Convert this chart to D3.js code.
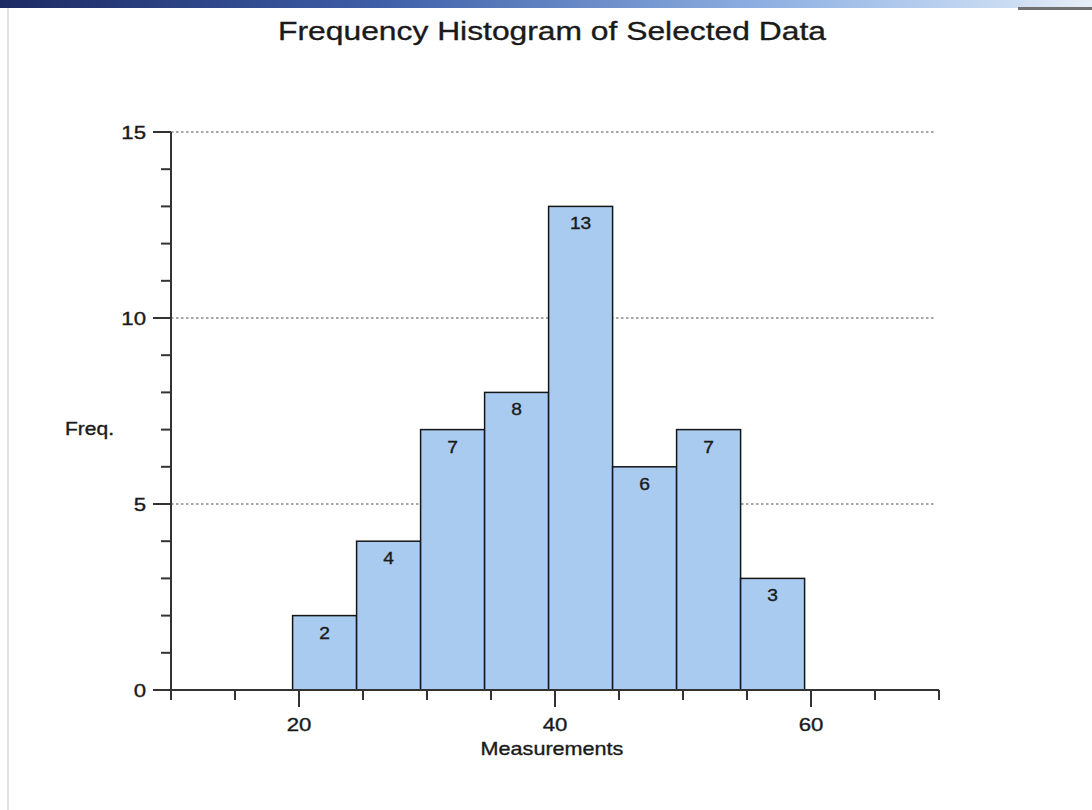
<!DOCTYPE html>
<html>
<head>
<meta charset="utf-8">
<script src="https://cdn.jsdelivr.net/npm/d3@7"></script>
<style>
  html, body { margin: 0; padding: 0; background: #ffffff; }
  svg { display: block; }
  text { font-family: "Liberation Sans", Arial, Helvetica, sans-serif; fill: #1a1a1a; stroke: #1a1a1a; stroke-width: 0.35px; }
</style>
</head>
<body>
<svg id="chart" width="1092" height="810"></svg>
<script>
// Class boundaries (lower edges) of each bin, bin width, and frequency counts
const binStarts = [19.5, 24.5, 29.5, 34.5, 39.5, 44.5, 49.5, 54.5];
const binWidth = 5;
const frequencies = [2, 4, 7, 8, 13, 6, 7, 3];

// Axis tick values
const xMajorTicks = [20, 40, 60];
const xMinorTicks = [10, 15, 25, 30, 35, 45, 50, 55, 65, 70];
const yMajorTicks = [0, 5, 10, 15];
const yMinorTicks = [1, 2, 3, 4, 6, 7, 8, 9, 11, 12, 13, 14];
const gridValues = [5, 10, 15];

const titleText = "Frequency Histogram of Selected Data";
const xTitle = "Measurements";
const yTitle = "Freq.";

const svg = d3.select("#chart");
const SX = 1.2; // horizontal stretch applied to all lettering

const x = d3.scaleLinear().domain([10, 70]).range([171, 939]);
const y = d3.scaleLinear().domain([0, 15]).range([690, 132]);

// Window strip along the top edge and thin frame on the left
const defs = svg.append("defs");
const grad = defs.append("linearGradient").attr("id", "strip").attr("x1", 0).attr("x2", 1);
grad.append("stop").attr("offset", 0).attr("stop-color", "#1c2a63");
grad.append("stop").attr("offset", 0.35).attr("stop-color", "#3f5fa8");
grad.append("stop").attr("offset", 0.7).attr("stop-color", "#8eb0e2");
grad.append("stop").attr("offset", 0.92).attr("stop-color", "#c9dbf2");
grad.append("stop").attr("offset", 1).attr("stop-color", "#e8eef6");
svg.append("rect").attr("x", 0).attr("y", 0).attr("width", 1092).attr("height", 8).attr("fill", "url(#strip)");
svg.append("rect").attr("x", 1018).attr("y", 7).attr("width", 74).attr("height", 3).attr("fill", "#707070");
svg.append("line").attr("x1", 8).attr("x2", 8).attr("y1", 8).attr("y2", 810)
  .attr("stroke", "#d6d6d6").attr("stroke-width", 1.5);

// Helper for horizontally stretched text
function stretchedText(g, tx, ty, str, size, anchor) {
  return g.append("text")
    .attr("transform", `translate(${tx},${ty}) scale(${SX},1)`)
    .attr("text-anchor", anchor)
    .style("font-size", size + "px")
    .text(str);
}

// Title
stretchedText(svg, 552, 40, titleText, 26.5, "middle");

// Dotted grid lines
svg.append("g").selectAll("line").data(gridValues).join("line")
  .attr("x1", x(10)).attr("x2", 936)
  .attr("y1", d => y(d)).attr("y2", d => y(d))
  .attr("stroke", "#8a8a8a").attr("stroke-width", 1.5)
  .attr("stroke-dasharray", "2.5,2.5");

// Bars
const bars = svg.append("g");
bars.selectAll("rect").data(frequencies).join("rect")
  .attr("x", (d, i) => x(binStarts[i]))
  .attr("y", d => y(d))
  .attr("width", (d, i) => x(binStarts[i] + binWidth) - x(binStarts[i]))
  .attr("height", d => y(0) - y(d))
  .attr("fill", "#a9cbf0")
  .attr("stroke", "#151515")
  .attr("stroke-width", 1.5);

// Value labels inside the top of each bar
const labels = svg.append("g");
frequencies.forEach((d, i) => {
  const cx = (x(binStarts[i]) + x(binStarts[i] + binWidth)) / 2;
  stretchedText(labels, cx, y(d) + 23, String(d), 16, "middle");
});

// Y axis
const axisColor = "#333";
const yAxis = svg.append("g");
yAxis.append("line").attr("x1", x(10)).attr("x2", x(10))
  .attr("y1", y(15)).attr("y2", y(0))
  .attr("stroke", axisColor).attr("stroke-width", 2);
yAxis.selectAll("line.minor").data(yMinorTicks).join("line").attr("class", "minor")
  .attr("x1", x(10) - 10).attr("x2", x(10))
  .attr("y1", d => y(d)).attr("y2", d => y(d))
  .attr("stroke", axisColor).attr("stroke-width", 2);
yAxis.selectAll("line.major").data(yMajorTicks).join("line").attr("class", "major")
  .attr("x1", x(10) - 18).attr("x2", x(10))
  .attr("y1", d => y(d)).attr("y2", d => y(d))
  .attr("stroke", axisColor).attr("stroke-width", 2);
yMajorTicks.forEach(d => {
  stretchedText(yAxis, x(10) - 25, y(d) + 6.5, String(d), 18.5, "end");
});

// X axis
const xAxis = svg.append("g");
xAxis.append("line").attr("x1", x(10)).attr("x2", x(70))
  .attr("y1", y(0)).attr("y2", y(0))
  .attr("stroke", axisColor).attr("stroke-width", 2);
xAxis.selectAll("line.minor").data(xMinorTicks).join("line").attr("class", "minor")
  .attr("x1", d => x(d)).attr("x2", d => x(d))
  .attr("y1", y(0)).attr("y2", y(0) + 10)
  .attr("stroke", axisColor).attr("stroke-width", 2);
xAxis.selectAll("line.major").data(xMajorTicks).join("line").attr("class", "major")
  .attr("x1", d => x(d)).attr("x2", d => x(d))
  .attr("y1", y(0)).attr("y2", y(0) + 17)
  .attr("stroke", axisColor).attr("stroke-width", 2);
xMajorTicks.forEach(d => {
  stretchedText(xAxis, x(d), 731, String(d), 18.5, "middle");
});

// Axis titles
stretchedText(svg, 552, 755, xTitle, 18, "middle");
stretchedText(svg, 65, 435, yTitle, 17.5, "start");
</script>
</body>
</html>
